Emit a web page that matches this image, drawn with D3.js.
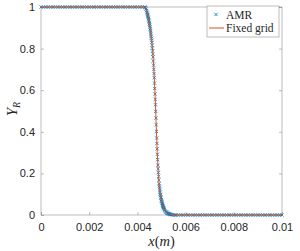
<!DOCTYPE html>
<html>
<head>
<meta charset="utf-8">
<script src="https://cdn.jsdelivr.net/npm/d3@7"></script>
<style>
  body { margin: 0; background: #fff; }
  svg { display: block; }
</style>
</head>
<body>
<div id="chart-area"></div>
<script>
// AMR samples: coarse cells on the plateaus, refined cells across the front
var amrLeftX = [0, 0.0001, 0.0002, 0.0003, 0.0004, 0.0005, 0.0006, 0.0007, 0.0008, 0.0009,
	0.0010, 0.0011, 0.0012, 0.0013, 0.0014, 0.0015, 0.0016, 0.0017, 0.0018, 0.0019,
	0.0020, 0.0021, 0.0022, 0.0023, 0.0024, 0.0025, 0.0026, 0.0027, 0.0028, 0.0029,
	0.0030, 0.0031, 0.0032, 0.0033, 0.0034, 0.0035, 0.0036, 0.0037, 0.0038, 0.0039,
	0.0040, 0.0041, 0.0042];
var amrRightX = [0.0056, 0.0057, 0.0058, 0.0059, 0.0060, 0.0061, 0.0062, 0.0063, 0.0064,
	0.0065, 0.0066, 0.0067, 0.0068, 0.0069, 0.0070, 0.0071, 0.0072, 0.0073, 0.0074,
	0.0075, 0.0076, 0.0077, 0.0078, 0.0079, 0.0080, 0.0081, 0.0082, 0.0083, 0.0084,
	0.0085, 0.0086, 0.0087, 0.0088, 0.0089, 0.0090, 0.0091, 0.0092, 0.0093, 0.0094,
	0.0095, 0.0096, 0.0097, 0.0098, 0.0099, 0.0100];

var amrFrontX = [0.00430, 0.00432, 0.00434, 0.00436, 0.00438,
	0.00440, 0.00441, 0.00442, 0.00443, 0.00444, 0.00445, 0.00446, 0.00447, 0.00448, 0.00449,
	0.00450, 0.00451, 0.00452, 0.00453, 0.00454, 0.00455, 0.00456, 0.00457, 0.00458, 0.00459,
	0.00460, 0.00461, 0.00462, 0.00463, 0.00464, 0.00465, 0.00466, 0.00467, 0.00468, 0.00469,
	0.00470, 0.00471, 0.00472, 0.00473, 0.00474, 0.00475, 0.00476, 0.00477, 0.00478, 0.00479,
	0.00480, 0.00481, 0.00482, 0.00483, 0.00484, 0.00485, 0.00486, 0.00487, 0.00488, 0.00489,
	0.00490, 0.00491, 0.00492, 0.00493, 0.00494, 0.00495, 0.00496, 0.00497, 0.00498, 0.00499,
	0.00500, 0.00501, 0.00502, 0.00503, 0.00504, 0.00505, 0.00506, 0.00507, 0.00508, 0.00509,
	0.00510, 0.00512, 0.00514, 0.00516, 0.00518, 0.00520, 0.00522, 0.00524, 0.00526, 0.00528,
	0.00530, 0.00532, 0.00534, 0.00536, 0.00538, 0.00540, 0.00545, 0.00550, 0.00555];
var amrFrontY = [1.000, 0.999, 0.996, 0.990, 0.983,
	0.975, 0.970, 0.965, 0.960, 0.955, 0.950, 0.944, 0.938, 0.932, 0.926,
	0.920, 0.912, 0.904, 0.896, 0.888, 0.880, 0.870, 0.860, 0.850, 0.840,
	0.830, 0.816, 0.802, 0.788, 0.774, 0.760, 0.740, 0.720, 0.700, 0.680,
	0.660, 0.634, 0.608, 0.582, 0.556, 0.530, 0.498, 0.466, 0.434, 0.402,
	0.370, 0.344, 0.318, 0.292, 0.266, 0.240, 0.222, 0.204, 0.186, 0.168,
	0.150, 0.140, 0.130, 0.120, 0.110, 0.100, 0.094, 0.087, 0.081, 0.074,
	0.068, 0.064, 0.059, 0.055, 0.050, 0.046, 0.043, 0.040, 0.036, 0.033,
	0.030, 0.026, 0.022, 0.018, 0.015, 0.013, 0.011, 0.009, 0.008, 0.007,
	0.006, 0.005, 0.004, 0.003, 0.002, 0.002, 0.001, 0.000, 0.000];

// fixed grid solution
var gridX = [0, 0.0043, 0.00435, 0.0044, 0.00445, 0.0045, 0.00455, 0.0046, 0.00465, 0.0047,
	0.00475, 0.0048, 0.00485, 0.0049, 0.00495, 0.005, 0.00505, 0.0051, 0.0052, 0.0053,
	0.0054, 0.0055, 0.01];
var gridY = [1, 1, 0.995, 0.975, 0.95, 0.92, 0.88, 0.83, 0.76, 0.66,
	0.53, 0.37, 0.24, 0.15, 0.10, 0.068, 0.046, 0.030, 0.013, 0.006,
	0.002, 0, 0];

var xTicks = [0, 0.002, 0.004, 0.006, 0.008, 0.01];
var yTicks = [0, 0.2, 0.4, 0.6, 0.8, 1];

var amr = [];
amrLeftX.forEach(x => amr.push({ x: x, y: 1 }));
amrFrontX.forEach((x, i) => amr.push({ x: x, y: amrFrontY[i] }));
amrRightX.forEach(x => amr.push({ x: x, y: 0 }));
var grid = gridX.map((x, i) => ({ x: x, y: gridY[i] }));

var margin = { top: 7, left: 41, bottom: 36, right: 18 };
var svgWidth = 300;
var svgHeight = 251;
var width = svgWidth - margin.left - margin.right;
var height = svgHeight - margin.top - margin.bottom;

var svg = d3.select("#chart-area").append("svg")
	.attr("width", svgWidth)
	.attr("height", svgHeight);

var graph = svg.append("g")
	.attr("transform", "translate(" + margin.left + "," + margin.top + ")");

var xScale = d3.scaleLinear().domain([0, 0.01]).range([0, width]);
var yScale = d3.scaleLinear().domain([0, 1]).range([height, 0]);

var axisColor = "#262626";
var tickFont = "'Liberation Sans', Arial, sans-serif";
var texFont = "'Liberation Serif', 'Times New Roman', serif";

// box
graph.append("rect")
	.attr("width", width).attr("height", height)
	.attr("fill", "none").attr("stroke", axisColor).attr("stroke-width", 0.5)
	.attr("stroke-opacity", 0.6);

function styleAxis(g) {
	g.select(".domain").remove();
	g.selectAll("line").attr("stroke", axisColor).attr("stroke-opacity", 0.6).attr("stroke-width", 0.5);
	g.selectAll("text").attr("fill", axisColor).attr("font-family", tickFont).attr("font-size", "11px");
}

var fmt = d => d === 0 ? "0" : String(+d.toFixed(3));

graph.append("g")
	.attr("transform", "translate(0," + height + ")")
	.call(d3.axisBottom(xScale).tickValues(xTicks).tickSize(-3).tickPadding(8).tickFormat(fmt))
	.call(styleAxis);

graph.append("g")
	.call(d3.axisLeft(yScale).tickValues(yTicks).tickSize(-3).tickPadding(6).tickFormat(fmt))
	.call(styleAxis);
graph.append("g")
	.attr("transform", "translate(" + width + ",0)")
	.call(d3.axisRight(yScale).tickValues(yTicks).tickSize(-3).tickFormat(""))
	.call(styleAxis);

// AMR markers
var mk = 1.6;
graph.append("g").selectAll("path")
	.data(amr)
	.enter().append("path")
	.attr("transform", d => "translate(" + xScale(d.x) + "," + yScale(d.y) + ")")
	.attr("d", "M" + -mk + "," + -mk + "L" + mk + "," + mk + "M" + -mk + "," + mk + "L" + mk + "," + -mk)
	.attr("stroke", "#0072BD")
	.attr("stroke-width", 0.8)
	.attr("fill", "none");

// fixed grid line
var line = d3.line().x(d => xScale(d.x)).y(d => yScale(d.y)).curve(d3.curveMonotoneX);
graph.append("path")
	.datum(grid)
	.attr("d", line)
	.attr("fill", "none")
	.attr("stroke", "#D95319")
	.attr("stroke-width", 1);

// axis labels
var yLab = svg.append("text")
	.attr("transform", "translate(17," + (margin.top + height / 2 - 2) + ") rotate(-90)")
	.attr("text-anchor", "middle")
	.attr("font-family", texFont)
	.attr("font-style", "italic")
	.attr("font-size", "15px")
	.attr("fill", axisColor);
yLab.append("tspan").text("Y");
yLab.append("tspan").attr("font-size", "10px").attr("dy", 3).text("R");

var xLab = svg.append("text")
	.attr("x", margin.left + width / 2)
	.attr("y", 246)
	.attr("text-anchor", "middle")
	.attr("font-family", texFont)
	.attr("font-size", "14.5px")
	.attr("fill", axisColor);
xLab.append("tspan").attr("font-style", "italic").text("x");
xLab.append("tspan").text("(");
xLab.append("tspan").attr("font-style", "italic").text("m");
xLab.append("tspan").text(")");

// legend
var legend = svg.append("g").attr("transform", "translate(207,6)");
legend.append("rect")
	.attr("width", 72).attr("height", 31)
	.attr("fill", "#fff").attr("stroke", axisColor).attr("stroke-opacity", 0.6).attr("stroke-width", 0.5);
legend.append("path")
	.attr("transform", "translate(9,8.5)")
	.attr("d", "M" + -mk + "," + -mk + "L" + mk + "," + mk + "M" + -mk + "," + mk + "L" + mk + "," + -mk)
	.attr("stroke", "#0072BD").attr("stroke-width", 0.8);
legend.append("line")
	.attr("x1", 2).attr("x2", 17).attr("y1", 22).attr("y2", 22)
	.attr("stroke", "#D95319").attr("stroke-width", 1);
legend.append("text").attr("x", 19).attr("y", 12.5)
	.attr("font-family", texFont).attr("font-size", "11.5px").attr("fill", axisColor)
	.text("AMR");
legend.append("text").attr("x", 19).attr("y", 26)
	.attr("font-family", texFont).attr("font-size", "11.5px").attr("fill", axisColor)
	.text("Fixed grid");
</script>
</body>
</html>
